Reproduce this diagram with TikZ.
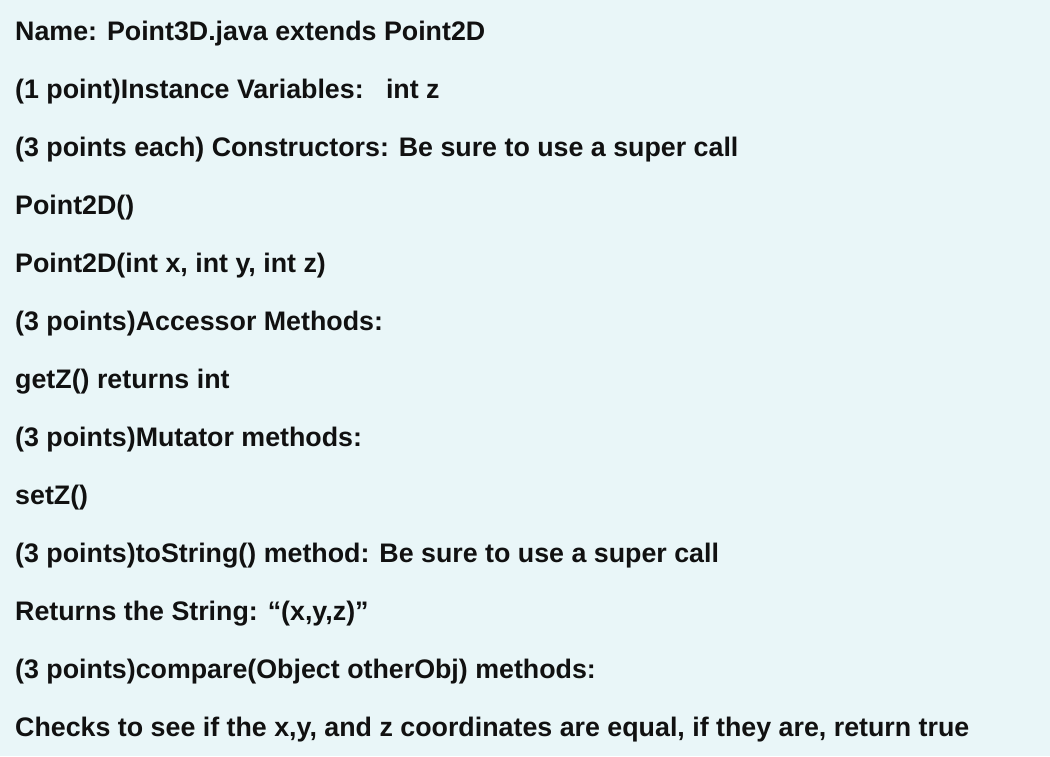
\documentclass[tikz,border=0pt]{standalone}
\usepackage{fontspec}
\setmainfont{Liberation Sans}
\definecolor{bg}{HTML}{E9F6F8}
\definecolor{fg}{HTML}{111111}
\begin{document}
\begin{tikzpicture}[x=1pt,y=-1pt,
  line/.style={anchor=base west,inner sep=0pt,font=\fontsize{26.8}{30}\selectfont\bfseries,text=fg}]
\fill[bg] (0,0) rectangle (1050,756);
\useasboundingbox (0,0) rectangle (1050,756);
\node[line] (l1) at (15,40) {Name: Point3D.java extends Point2D};
\node[line] (l2) at (15,98) {(1 point)Instance Variables:\ \ \ int z};
\node[line] (l3) at (15,156) {(3 points each) Constructors: Be sure to use a super call};
\node[line] (l4) at (15,214) {Point2D()};
\node[line] (l5) at (15,272) {Point2D(int x, int y, int z)};
\node[line] (l6) at (15,330) {(3 points)Accessor Methods:};
\node[line] (l7) at (15,388) {getZ() returns int};
\node[line] (l8) at (15,446) {(3 points)Mutator methods:};
\node[line] (l9) at (15,504) {setZ()};
\node[line] (l10) at (15,562) {(3 points)toString() method: Be sure to use a super call};
\node[line] (l11) at (15,620) {Returns the String: “(x,y,z)”};
\node[line] (l12) at (15,678) {(3 points)compare(Object otherObj) methods:};
\node[line] (l13) at (15,736) {Checks to see if the x,y, and z coordinates are equal, if they are, return true};
\end{tikzpicture}
\end{document}
